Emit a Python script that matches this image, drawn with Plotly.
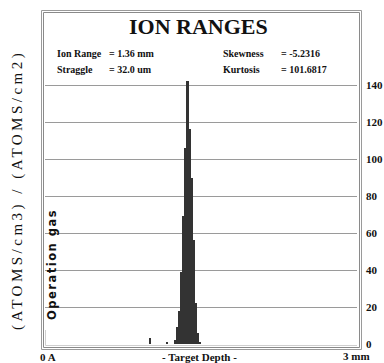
import plotly.graph_objects as go

# Depth histogram of implanted ions (bin width 0.02 mm, centres in mm)
depth_mm = [1.01, 1.17, 1.25, 1.27, 1.29, 1.31, 1.33, 1.35, 1.37, 1.39,
            1.41, 1.43, 1.45, 1.47, 1.49]
counts = [3, 1, 2, 9, 18, 39, 69, 106, 142, 116, 90, 56, 22, 6, 1]
bin_width_mm = 0.02

y_ticks = [0, 20, 40, 60, 80, 100, 120, 140]
stat_names = ["Ion Range", "Straggle", "Skewness", "Kurtosis"]
stat_values = ["= 1.36 mm", "= 32.0 um", "= -5.2316", "= 101.6817"]

W, H = 384, 363
L, R, T, B = 45, 357, 13, 344          # plot area in pixels
PX_PER_UNIT = 1.85
Y_MAX = (B - T) / PX_PER_UNIT


def px(x):
    return (x - L) / (R - L)


def py(y):
    return (B - y) / (B - T)


SERIF = "Liberation Serif, Times New Roman, serif"

fig = go.Figure()
fig.add_trace(go.Bar(
    x=depth_mm, y=counts, width=bin_width_mm,
    marker=dict(color="#333333", line=dict(width=0)),
    hoverinfo="skip",
))

shapes = [
    # double grey frame
    dict(type="rect", xref="paper", yref="paper",
         x0=px(41.5), x1=px(361.5), y0=py(349.5), y1=py(10.5),
         line=dict(color="#9a9a9a", width=1)),
    dict(type="rect", xref="paper", yref="paper",
         x0=px(43.5), x1=px(359.5), y0=py(347.5), y1=py(12.5),
         line=dict(color="#8a8a8a", width=1)),
    # light inner baseline
    dict(type="line", xref="paper", yref="paper",
         x0=px(45.5), x1=px(357), y0=py(345.5), y1=py(345.5),
         line=dict(color="#cfcfcf", width=1)),
    dict(type="line", xref="paper", yref="paper",
         x0=px(45.5), x1=px(45.5), y0=py(345.5), y1=py(330),
         line=dict(color="#cfcfcf", width=1)),
]

annotations = [
    dict(text="<b>ION RANGES</b>", x=px(198.5), y=py(27),
         font=dict(family=SERIF, size=22, color="#111")),
]

# statistics block: two columns of name / value pairs
name_x = [55, 55, 221, 221]
value_x = [106.7, 106.7, 279, 279]
row_y = [53.5, 69, 53.5, 69]
for name, val, nx, vx, ry in zip(stat_names, stat_values, name_x, value_x, row_y):
    annotations.append(dict(text=f"<b>{name}</b>", x=px(nx), y=py(ry),
                            xanchor="left",
                            font=dict(family=SERIF, size=10, color="#111")))
    annotations.append(dict(text=f"<b>{val}</b>", x=px(vx), y=py(ry),
                            xanchor="left",
                            font=dict(family=SERIF, size=10, color="#111")))

# x-axis labels
annotations += [
    dict(text="<b>0 A</b>", x=px(38), y=py(356.5), xanchor="left",
         font=dict(family=SERIF, size=11, color="#111")),
    dict(text="<b>- Target Depth -</b>", x=px(199), y=py(356.5),
         font=dict(family=SERIF, size=11, color="#111")),
    dict(text="<b>3 mm</b>", x=px(372), y=py(355.5), xanchor="right",
         font=dict(family=SERIF, size=11, color="#111")),
]

# vertical titles
annotations += [
    dict(text='<span style="letter-spacing:3.5px">(ATOMS/cm3) / (ATOMS/cm2)</span>',
         x=px(17), y=py(190), textangle=-90,
         font=dict(family=SERIF, size=15, color="#111")),
    dict(text='<span style="letter-spacing:1.5px"><b>Operation gas</b></span>',
         x=px(52), y=py(265), textangle=-90,
         font=dict(family="DejaVu Sans", size=11.5, color="#111")),
]
for a in annotations:
    a.setdefault("xref", "paper")
    a.setdefault("yref", "paper")
    a.setdefault("showarrow", False)
    a.setdefault("yanchor", "middle")
    a.setdefault("xanchor", "center")

fig.update_layout(
    width=W, height=H,
    margin=dict(l=L, r=W - R, t=T, b=H - B, pad=0, autoexpand=False),
    paper_bgcolor="white", plot_bgcolor="white",
    showlegend=False, bargap=0,
    shapes=shapes, annotations=annotations,
    xaxis=dict(range=[0, 3], showgrid=False, zeroline=False, automargin=False,
               showticklabels=False, ticks="", showline=False, fixedrange=True),
    yaxis=dict(range=[0, Y_MAX], side="right", tickvals=y_ticks,
               ticktext=[f"<b>{v}</b>" for v in y_ticks], automargin=False,
               showgrid=True, gridcolor="#9a9a9a", gridwidth=1,
               zeroline=False, showline=False, ticks="",
               ticklabelstandoff=8,
               tickfont=dict(family=SERIF, size=11, color="#111"),
               fixedrange=True),
)

fig.write_html("out.html")
